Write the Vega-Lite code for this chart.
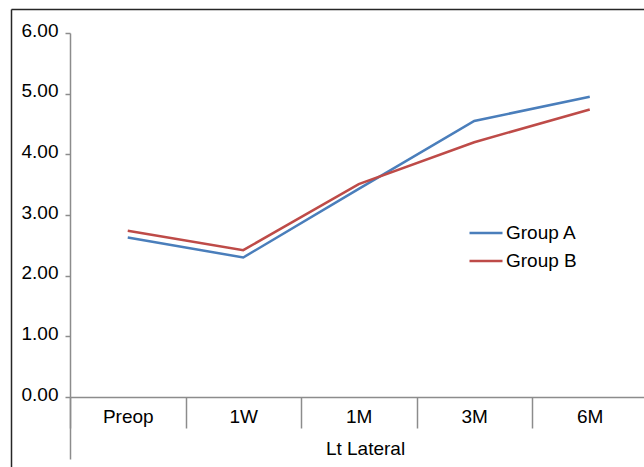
{
  "$schema": "https://vega.github.io/schema/vega-lite/v6.json",
  "width": 633,
  "height": 458,
  "autosize": {"type": "none"},
  "padding": {"left": 11, "top": 9, "right": 0, "bottom": 0},
  "background": "#ffffff",
  "config": {
    "view": {"stroke": null},
    "font": "Liberation Sans",
    "axis": {"labelFont": "Liberation Sans", "titleFont": "Liberation Sans", "labelColor": "#000000", "titleColor": "#000000", "grid": false}
  },
  "data": {
    "values": [
      {"time": "Preop", "group": "Group A", "score": 2.63},
      {"time": "1W", "group": "Group A", "score": 2.30},
      {"time": "1M", "group": "Group A", "score": 3.43},
      {"time": "3M", "group": "Group A", "score": 4.55},
      {"time": "6M", "group": "Group A", "score": 4.95},
      {"time": "Preop", "group": "Group B", "score": 2.74},
      {"time": "1W", "group": "Group B", "score": 2.42},
      {"time": "1M", "group": "Group B", "score": 3.51},
      {"time": "3M", "group": "Group B", "score": 4.20},
      {"time": "6M", "group": "Group B", "score": 4.74}
    ]
  },
  "resolve": {"scale": {"x": "independent", "y": "independent"}},
  "layer": [
    {
      "mark": {"type": "line", "strokeWidth": 2.5, "interpolate": "linear"},
      "encoding": {
        "x": {
          "field": "time", "type": "ordinal", "bandPosition": 0.5,
          "sort": ["Preop", "1W", "1M", "3M", "6M"],
          "scale": {"type": "band", "range": [59, 636.5], "paddingInner": 0, "paddingOuter": 0},
          "axis": {
            "orient": "bottom", "offset": -70, "title": "Lt Lateral",
            "tickBand": "extent", "tickSize": 31, "tickColor": "#8c8c8c", "tickWidth": 1.5,
            "domainColor": "#8c8c8c", "domainWidth": 1.5,
            "labelFontSize": 19, "labelPadding": -21, "labelAngle": 0,
            "titleFontSize": 19, "titleFontWeight": "normal",
            "titleX": 354, "titleY": 51, "titleBaseline": "middle"
          }
        },
        "y": {
          "field": "score", "type": "quantitative",
          "scale": {"domain": [0, 6], "range": [388, 24], "nice": false, "zero": true},
          "axis": {
            "orient": "left", "offset": -59, "title": null,
            "values": [0, 1, 2, 3, 4, 5, 6], "format": ".2f",
            "tickSize": 5, "tickColor": "#8c8c8c", "tickWidth": 1.5,
            "domainColor": "#8c8c8c", "domainWidth": 1.5,
            "labelFontSize": 19, "labelPadding": 7, "labelOffset": -3
          }
        },
        "color": {
          "field": "group", "type": "nominal",
          "scale": {"domain": ["Group A", "Group B"], "range": ["#4a7ebb", "#be4b48"]},
          "legend": {
            "orient": "none", "legendX": 457, "legendY": 206, "title": null,
            "symbolType": "stroke", "symbolSize": 1089, "symbolStrokeWidth": 2.5,
            "labelFontSize": 19, "labelFont": "Liberation Sans", "labelColor": "#000000",
            "labelOffset": 2, "rowPadding": 0, "padding": 0
          }
        }
      }
    },
    {
      "mark": {"type": "line", "opacity": 0},
      "encoding": {
        "x": {
          "field": "time", "type": "ordinal", "bandPosition": 0.5,
          "sort": ["Preop", "1W", "1M", "3M", "6M"],
          "scale": {"type": "band", "range": [59, 636.5], "paddingInner": 0, "paddingOuter": 0},
          "axis": {
            "orient": "bottom", "offset": -70, "title": null,
            "values": ["Preop"], "bandPosition": 0,
            "tickSize": 62, "tickColor": "#8c8c8c", "tickWidth": 1.5,
            "domain": false, "labels": false
          }
        },
        "y": {
          "field": "score", "type": "quantitative",
          "scale": {"domain": [0, 6], "range": [388, 24], "nice": false},
          "axis": null
        },
        "detail": {"field": "group"}
      }
    },
    {
      "mark": {"type": "line", "opacity": 0},
      "encoding": {
        "x": {
          "field": "score", "type": "quantitative",
          "axis": {"orient": "top", "offset": 0, "title": null, "ticks": false, "labels": false, "domainColor": "#262626", "domainWidth": 1.5}
        },
        "y": {
          "field": "score", "type": "quantitative",
          "axis": {"orient": "left", "offset": 0, "title": null, "ticks": false, "labels": false, "domainColor": "#262626", "domainWidth": 1.5}
        },
        "detail": {"field": "group"}
      }
    }
  ]
}
